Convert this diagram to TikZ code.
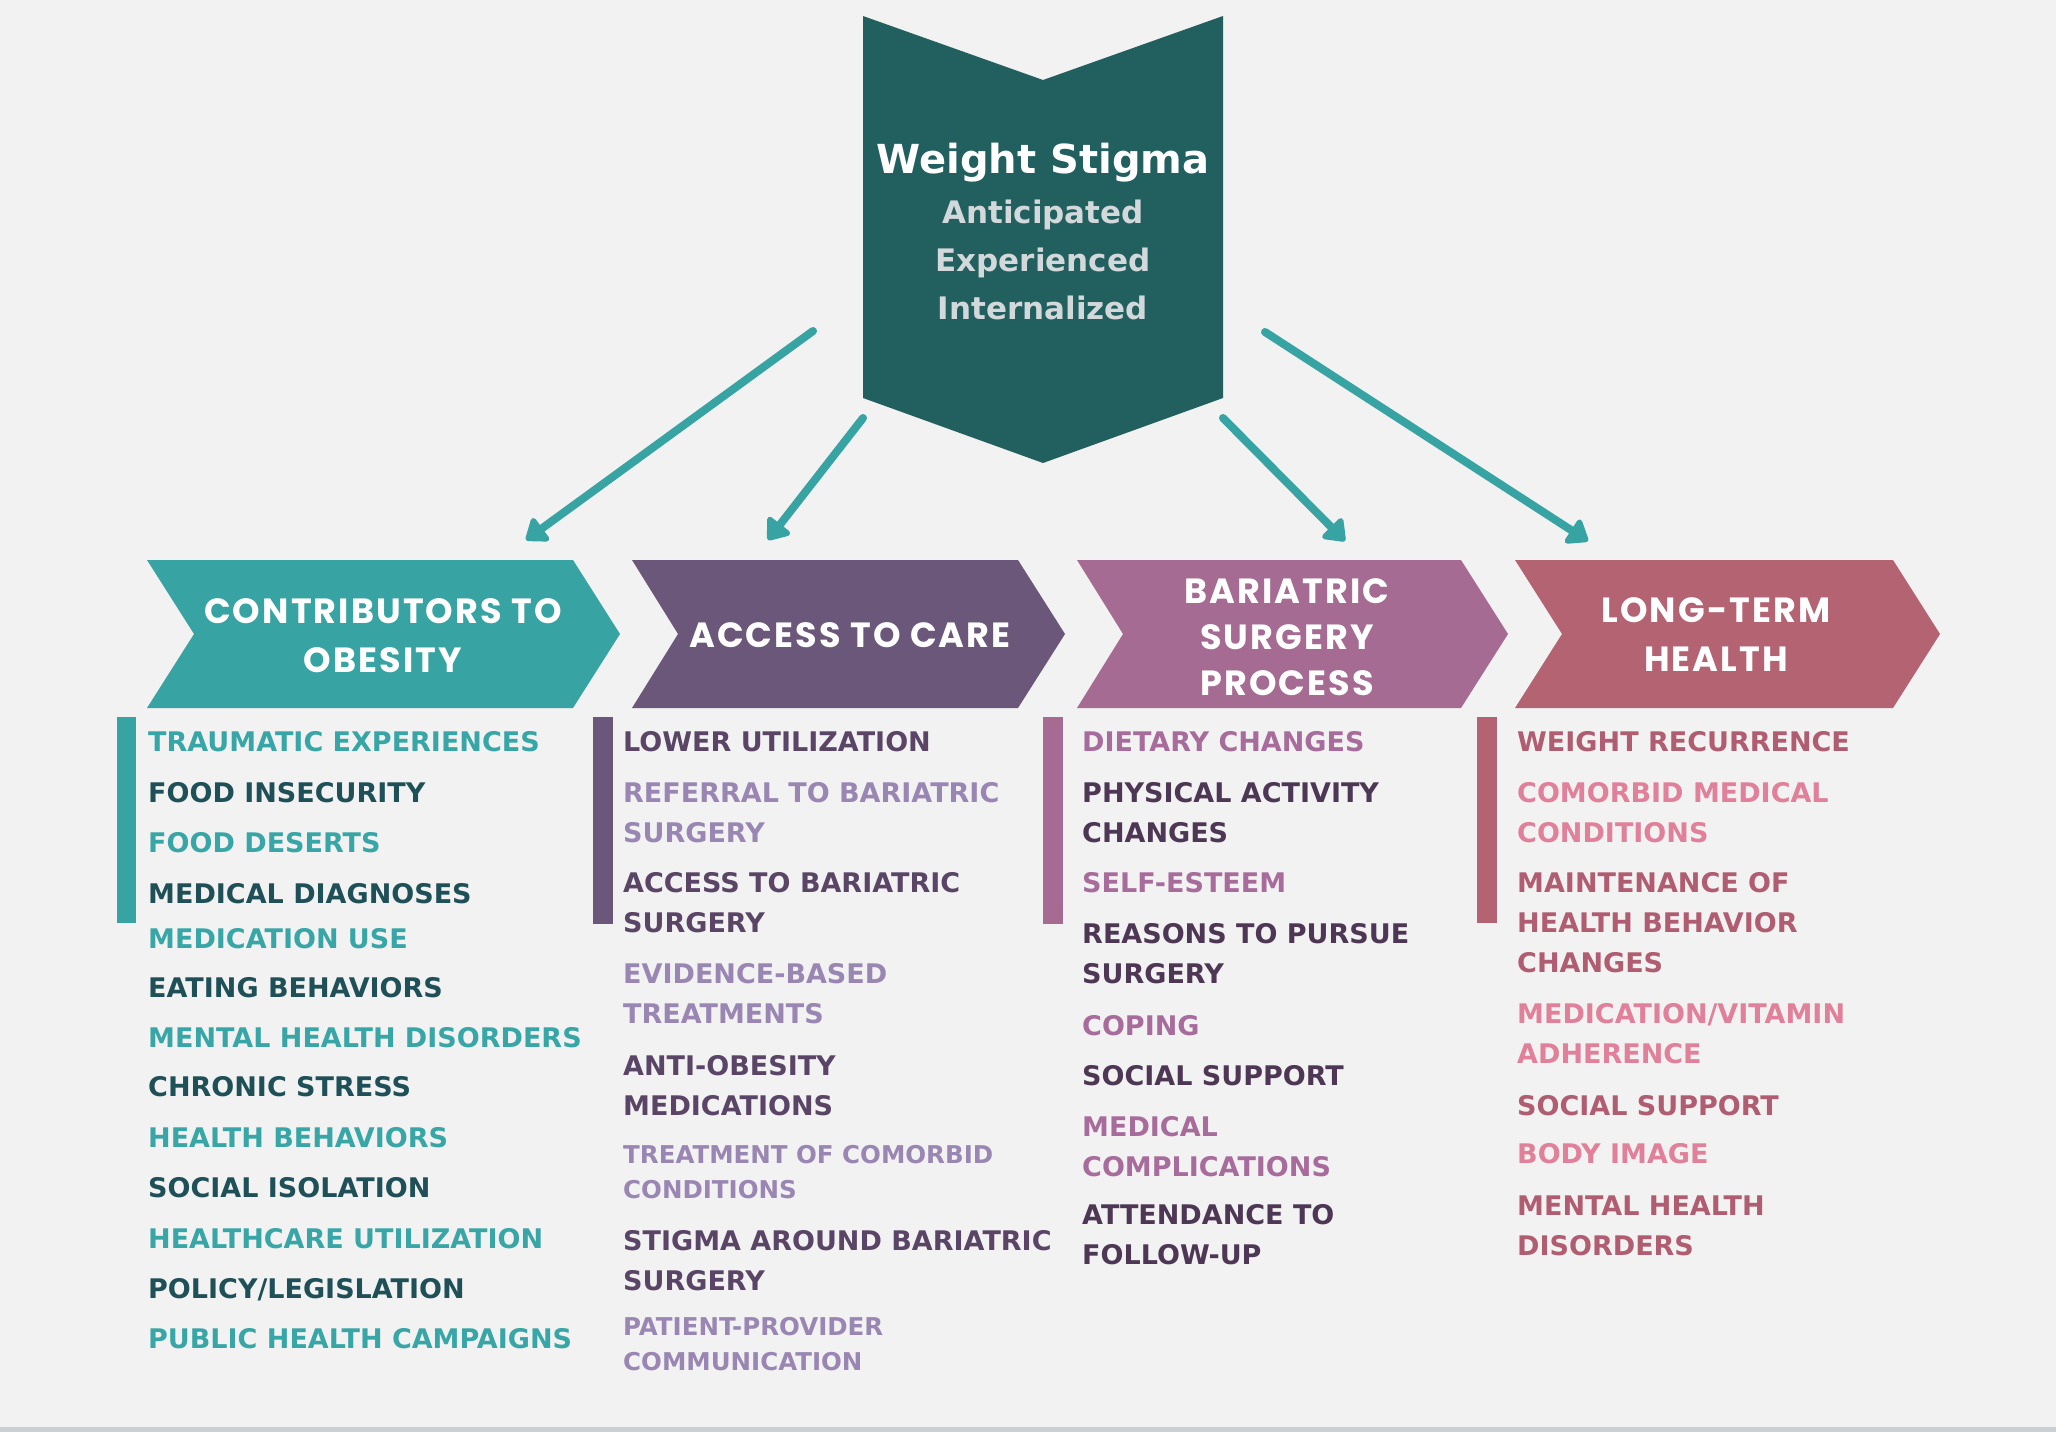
\documentclass[tikz,border=0pt]{standalone}
\usepackage{fontspec}
\setmainfont{DejaVu Sans}
\newfontfamily\hfont[LetterSpace=6]{Poppins}
\usetikzlibrary{arrows.meta}
\definecolor{bg}{HTML}{F1F2F1}
\definecolor{bottomline}{HTML}{C9CFD2}
\definecolor{banner}{HTML}{22605F}
\definecolor{subtxt}{HTML}{D3D8DB}
\definecolor{arrowc}{HTML}{38A3A3}
\definecolor{hA}{HTML}{38A3A3}
\definecolor{hB}{HTML}{6B5779}
\definecolor{hC}{HTML}{A56B93}
\definecolor{hD}{HTML}{B46373}
\definecolor{tAl}{HTML}{38A6A6}
\definecolor{tAd}{HTML}{1F5058}
\definecolor{tBl}{HTML}{9A86B2}
\definecolor{tBd}{HTML}{5A4566}
\definecolor{tCl}{HTML}{A86C9C}
\definecolor{tCd}{HTML}{4D3754}
\definecolor{tDd}{HTML}{B05D72}
\definecolor{tDl}{HTML}{E0809A}
% multi-line nodes: the base anchor sits on the LAST line's baseline
\tikzset{
  li/.style={anchor=base west, align=left, inner sep=0pt, font=\bfseries\fontsize{27}{40}\selectfont},
  smalli/.style={font=\bfseries\fontsize{24.5}{35}\selectfont},
  hd/.style={anchor=base, align=center, inner sep=0pt, text=white, font=\hfont\bfseries\fontsize{35}{49}\selectfont},
  arr/.style={draw=arrowc, line width=8pt, line cap=round, -{Triangle[length=22pt,width=32pt,round]}},
  barA/.style={fill=hA}, barB/.style={fill=hB}, barC/.style={fill=hC}, barD/.style={fill=hD}
}
\begin{document}
\begin{tikzpicture}[x=1pt,y=-1pt]
\useasboundingbox (0,0) rectangle (2056,1432);
\fill[bg] (0,0) rectangle (2056,1432);
\fill[bottomline] (0,1427) rectangle (2056,1432);

% banner
\fill[banner] (863,16) -- (1043,80) -- (1223,16) -- (1223,398) -- (1043,463) -- (863,398) -- cycle;
\node[anchor=base, inner sep=0pt, text=white, font=\bfseries\fontsize{40}{48}\selectfont] (title) at (1043,173) {Weight Stigma};
\node[anchor=base, align=center, inner sep=0pt, text=subtxt, font=\bfseries\fontsize{31}{48}\selectfont] (sub) at (1043,319) {Anticipated\\Experienced\\Internalized};

% header chevrons
\fill[hA] (147,560) -- (573,560) -- (620,634) -- (573,708) -- (147,708) -- (194,634) -- cycle;
\fill[hB] (632,560) -- (1018,560) -- (1065,634) -- (1018,708) -- (632,708) -- (678,634) -- cycle;
\fill[hC] (1077,560) -- (1461,560) -- (1508,634) -- (1461,708) -- (1077,708) -- (1123,634) -- cycle;
\fill[hD] (1515,560) -- (1893,560) -- (1940,634) -- (1893,708) -- (1515,708) -- (1562,634) -- cycle;
\node[hd] (h1) at (383,672) {CONTRIBUTORS TO\\OBESITY};
\node[hd] (h2) at (850,647) {ACCESS TO CARE};
\node[hd, font=\hfont\bfseries\fontsize{35}{46}\selectfont] (h3) at (1287,695) {BARIATRIC\\SURGERY\\PROCESS};
\node[hd] (h4) at (1716,671) {LONG-TERM\\HEALTH};

% arrows
\coordinate (s1) at (813,331); \coordinate (e1) at (526,540);
\coordinate (s2) at (863,418); \coordinate (e2) at (768,540);
\coordinate (s3) at (1223,418); \coordinate (e3) at (1345,541);
\coordinate (s4) at (1265,332); \coordinate (e4) at (1588,541);
\draw[arr] (s1) -- (e1);
\draw[arr] (s2) -- (e2);
\draw[arr] (s3) -- (e3);
\draw[arr] (s4) -- (e4);

% bars
\fill[barA] (117,717) rectangle (136,923);
\fill[barB] (593,717) rectangle (613,924);
\fill[barC] (1043,717) rectangle (1063,924);
\fill[barD] (1477,717) rectangle (1497,923);

% column 1
\node[li, text=tAl] (a1) at (148,751) {TRAUMATIC EXPERIENCES};
\node[li, text=tAd] (a2) at (148,802) {FOOD INSECURITY};
\node[li, text=tAl] (a3) at (148,852) {FOOD DESERTS};
\node[li, text=tAd] (a4) at (148,903) {MEDICAL DIAGNOSES};
\node[li, text=tAl] (a5) at (148,948) {MEDICATION USE};
\node[li, text=tAd] (a6) at (148,997) {EATING BEHAVIORS};
\node[li, text=tAl] (a7) at (148,1047) {MENTAL HEALTH DISORDERS};
\node[li, text=tAd] (a8) at (148,1096) {CHRONIC STRESS};
\node[li, text=tAl] (a9) at (148,1147) {HEALTH BEHAVIORS};
\node[li, text=tAd] (a10) at (148,1197) {SOCIAL ISOLATION};
\node[li, text=tAl] (a11) at (148,1248) {HEALTHCARE UTILIZATION};
\node[li, text=tAd] (a12) at (148,1298) {POLICY/LEGISLATION};
\node[li, text=tAl] (a13) at (148,1348) {PUBLIC HEALTH CAMPAIGNS};

% column 2
\node[li, text=tBd] (b1) at (623,751) {LOWER UTILIZATION};
\node[li, text=tBl] (b2) at (623,842) {REFERRAL TO BARIATRIC\\SURGERY};
\node[li, text=tBd] (b3) at (623,932) {ACCESS TO BARIATRIC\\SURGERY};
\node[li, text=tBl] (b4) at (623,1023) {EVIDENCE-BASED\\TREATMENTS};
\node[li, text=tBd] (b5) at (623,1115) {ANTI-OBESITY\\MEDICATIONS};
\node[li, smalli, text=tBl] (b6) at (623,1198) {TREATMENT OF COMORBID\\CONDITIONS};
\node[li, text=tBd] (b7) at (623,1290) {STIGMA AROUND BARIATRIC\\SURGERY};
\node[li, smalli, text=tBl] (b8) at (623,1370) {PATIENT-PROVIDER\\COMMUNICATION};

% column 3
\node[li, text=tCl] (c1) at (1082,751) {DIETARY CHANGES};
\node[li, text=tCd] (c2) at (1082,842) {PHYSICAL ACTIVITY\\CHANGES};
\node[li, text=tCl] (c3) at (1082,892) {SELF-ESTEEM};
\node[li, text=tCd] (c4) at (1082,983) {REASONS TO PURSUE\\SURGERY};
\node[li, text=tCl] (c5) at (1082,1035) {COPING};
\node[li, text=tCd] (c6) at (1082,1085) {SOCIAL SUPPORT};
\node[li, text=tCl] (c7) at (1082,1176) {MEDICAL\\COMPLICATIONS};
\node[li, text=tCd] (c8) at (1082,1264) {ATTENDANCE TO\\FOLLOW-UP};

% column 4
\node[li, text=tDd] (d1) at (1517,751) {WEIGHT RECURRENCE};
\node[li, text=tDl] (d2) at (1517,842) {COMORBID MEDICAL\\CONDITIONS};
\node[li, text=tDd] (d3) at (1517,972) {MAINTENANCE OF\\HEALTH BEHAVIOR\\CHANGES};
\node[li, text=tDl] (d4) at (1517,1063) {MEDICATION/VITAMIN\\ADHERENCE};
\node[li, text=tDd] (d5) at (1517,1115) {SOCIAL SUPPORT};
\node[li, text=tDl] (d6) at (1517,1163) {BODY IMAGE};
\node[li, text=tDd] (d7) at (1517,1255) {MENTAL HEALTH\\DISORDERS};
\end{tikzpicture}
\end{document}
